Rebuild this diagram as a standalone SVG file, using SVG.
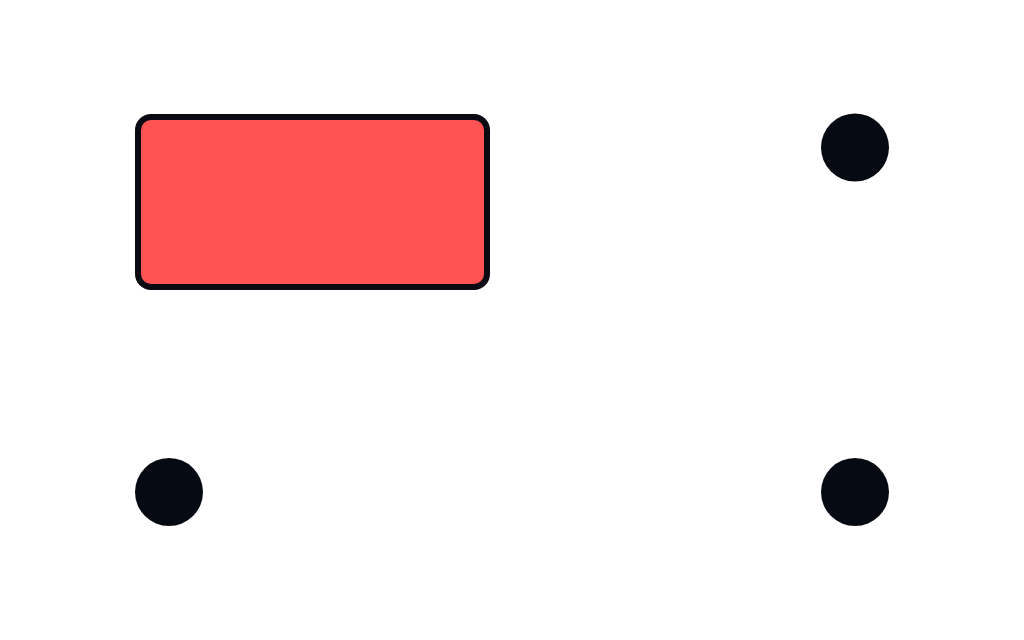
<svg xmlns="http://www.w3.org/2000/svg" width="1024" height="640" viewBox="0 0 1024 640">
<style>
.dot{fill:#060a12}
.box{fill:#ff5252;stroke:#0a0a12;stroke-width:6}
</style>
<rect width="1024" height="640" fill="#ffffff"/>
<g id="box"><rect class="box" x="138" y="117" width="349" height="170" rx="13" ry="13"/></g>
<g id="dot-tr"><circle class="dot" cx="855" cy="147.5" r="34"/></g>
<g id="dot-bl"><circle class="dot" cx="169" cy="492" r="34"/></g>
<g id="dot-br"><circle class="dot" cx="855" cy="492" r="34"/></g>
<g id="connectors"></g>
</svg>
